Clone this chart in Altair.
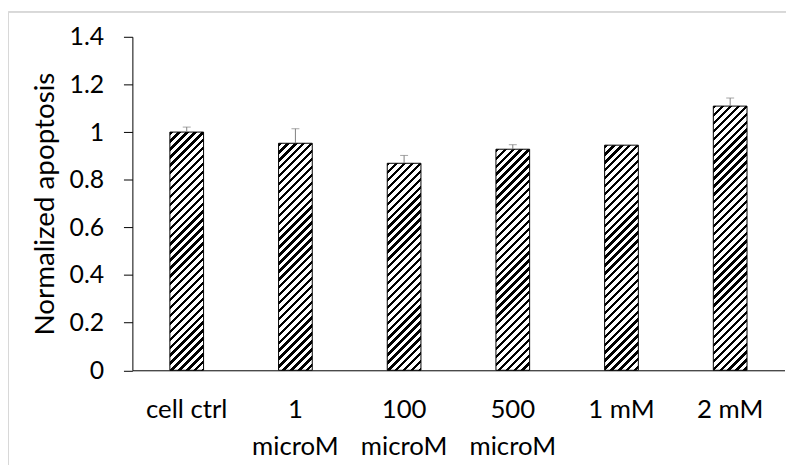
import altair as alt
import pandas as pd

categories = ["cell ctrl", "1 microM", "100 microM", "500 microM", "1 mM", "2 mM"]
values = [1.00, 0.953, 0.869, 0.928, 0.945, 1.109]
errors = [0.021, 0.061, 0.033, 0.019, 0.0, 0.034]
y_ticks = [0, 0.2, 0.4, 0.6, 0.8, 1.0, 1.2, 1.4]

PLOT_W = 658
PLOT_H = 336.5
Y_MAX = 1.4
BAR_W = 34
FONT = "Lato"

df = pd.DataFrame({"cat": categories, "value": values, "err": errors})
df["top"] = df["value"] + df["err"]


def hatch(value, period=8.0, dark=3.4):
    """Diagonal '/' hatching as a hard-stop linear gradient (style only)."""
    h = value / Y_MAX * PLOT_H
    w = BAR_W
    total = w + h
    stops = []
    pos = 0.0
    while pos < total:
        a = pos / total
        b = min((pos + dark) / total, 1.0)
        c = min((pos + period) / total, 1.0)
        stops += [
            {"offset": a, "color": "#000000"},
            {"offset": b, "color": "#000000"},
            {"offset": b, "color": "#ffffff"},
            {"offset": c, "color": "#ffffff"},
        ]
        pos += period
    k = total / (w * w + h * h)
    return {"gradient": "linear", "x1": 0, "y1": 0, "x2": k * w, "y2": k * h, "stops": stops}


x_enc = alt.X(
    "cat:N",
    sort=categories,
    scale=alt.Scale(domain=categories, paddingInner=0, paddingOuter=0),
    axis=alt.Axis(
        title=None,
        labelAngle=0,
        ticks=False,
        tickSize=0,
        domainColor="#000000",
        domainWidth=1,
        labelFont=FONT,
        labelFontSize=26,
        labelColor="#000000",
        labelPadding=27,
        labelLineHeight=37,
        labelLimit=300,
        labelExpr="indexof(datum.label, 'micro') >= 0 ? split(datum.label, ' ') : datum.label",
    ),
)

y_scale = alt.Scale(domain=[0, Y_MAX], nice=False, zero=True)
y_axis = alt.Axis(
    title="Normalized apoptosis",
    values=y_ticks,
    format="~g",
    grid=False,
    ticks=True,
    tickSize=9,
    tickColor="#000000",
    domainColor="#000000",
    labelPadding=20,
    labelFont=FONT,
    labelFontSize=25,
    labelColor="#000000",
    titleFont=FONT,
    titleFontSize=28,
    titleFontWeight="normal",
    titleColor="#000000",
    titleX=-88,
    titleY=PLOT_H / 2,
    titleAngle=270,
    titleAlign="center",
    titleBaseline="middle",
)

base = alt.Chart(df)

frame_top = base.mark_rule(color="#d9d9d9", strokeWidth=1).encode(
    x=alt.value(-125), x2=alt.value(PLOT_W + 10), y=alt.value(-25)
)
frame_left = base.mark_rule(color="#d9d9d9", strokeWidth=1).encode(
    x=alt.value(-125), y=alt.value(-25), y2=alt.value(PLOT_H + 120)
)

bar_layers = []
for c, v in zip(categories, values):
    bar_layers.append(
        base.transform_filter(alt.datum.cat == c)
        .mark_bar(size=BAR_W, fill=hatch(v), stroke="#000000", strokeWidth=1)
        .encode(x=x_enc, y=alt.Y("value:Q", scale=y_scale, axis=y_axis))
    )

err_rule = (
    base.transform_filter(alt.datum.err > 0)
    .mark_rule(color="#7f7f7f", strokeWidth=1)
    .encode(x=x_enc, y=alt.Y("value:Q", scale=y_scale, axis=y_axis), y2="top:Q")
)
err_cap = (
    base.transform_filter(alt.datum.err > 0)
    .mark_tick(color="#7f7f7f", size=8, thickness=1, orient="horizontal")
    .encode(x=x_enc, y=alt.Y("top:Q", scale=y_scale, axis=y_axis))
)

chart = (
    alt.layer(frame_top, frame_left, *bar_layers, err_rule, err_cap)
    .properties(
        width=PLOT_W,
        height=PLOT_H,
        autosize=alt.AutoSizeParams(type="none"),
        padding={"left": 125.5, "top": 27, "right": 1.5, "bottom": 93.5},
        background="#ffffff",
    )
    .configure_view(stroke=None)
)

chart.save("out.html", embed_options={"renderer": "svg", "actions": False})
